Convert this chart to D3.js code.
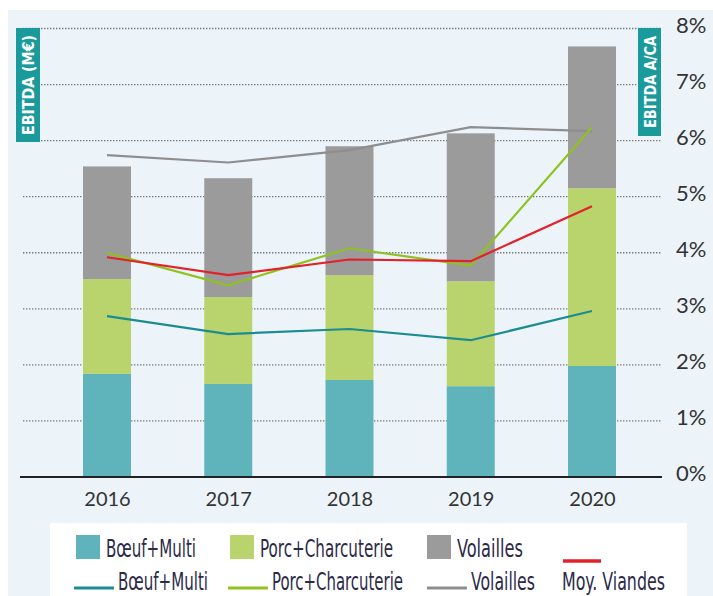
<!DOCTYPE html>
<html>
<head>
<meta charset="utf-8">
<script src="https://cdn.jsdelivr.net/npm/d3@7"></script>
<style>
  body { margin: 0; background: #fff; }
  svg { display: block; }
</style>
</head>
<body>
<script>
// data
var years = ["2016", "2017", "2018", "2019", "2020"];
// EBITDA (bars, in gridline units since the left axis has no labels)
var boeufBar = [1.84, 1.66, 1.73, 1.62, 1.98];
var porcBar = [1.69, 1.55, 1.87, 1.87, 3.17];
var volBar = [2.01, 2.12, 2.30, 2.64, 2.53];
// EBITDA / CA (lines, %)
var boeufPct = [2.87, 2.55, 2.64, 2.44, 2.96];
var porcPct = [4.00, 3.42, 4.08, 3.77, 6.24];
var volPct = [5.74, 5.61, 5.83, 6.24, 6.17];
var moyPct = [3.92, 3.60, 3.88, 3.85, 4.83];
var pctTicks = [0, 1, 2, 3, 4, 5, 6, 7, 8];

var width = 713, height = 596;

var svg = d3.select("body")
  .append("svg")
    .attr("width", width)
    .attr("height", height);

// light blue panel
svg.append("rect")
  .attr("x", 8).attr("y", 10)
  .attr("width", width - 8).attr("height", height - 10)
  .attr("fill", "#ecf4fa");

var x = d3.scalePoint()
  .domain(years)
  .range([107, 592]);
var barW = 48;

var yPct = d3.scaleLinear().domain([0, 8]).range([477, 28.5]);
var yBar = d3.scaleLinear().domain([0, 8]).range([477, 28.5]);

// dotted gridlines
svg.append("g")
  .selectAll("line")
  .data(pctTicks.slice(1))
  .enter()
    .append("line")
      .attr("x1", 23).attr("x2", 662)
      .attr("y1", function(d) { return yPct(d); })
      .attr("y2", function(d) { return yPct(d); })
      .attr("stroke", "#777")
      .attr("stroke-width", 1.3)
      .attr("stroke-dasharray", "1.4,1.6");

// stacked bars
var stackData = years.map(function(y, i) {
  return { year: y, boeuf: boeufBar[i], porc: porcBar[i], vol: volBar[i] };
});
var stack = d3.stack().keys(["boeuf", "porc", "vol"]);
var barColour = { boeuf: "#5fb4bb", porc: "#b9d46c", vol: "#9b9b9b" };

svg.append("g")
  .selectAll("g")
  .data(stack(stackData))
  .enter()
    .append("g")
      .attr("fill", function(d) { return barColour[d.key]; })
    .selectAll("rect")
    .data(function(d) { return d; })
    .enter()
      .append("rect")
        .attr("x", function(d) { return x(d.data.year) - barW / 2; })
        .attr("width", barW)
        .attr("y", function(d) { return yBar(d[1]); })
        .attr("height", function(d) { return yBar(d[0]) - yBar(d[1]); });

// baseline
svg.append("line")
  .attr("x1", 20).attr("x2", 662)
  .attr("y1", yPct(0)).attr("y2", yPct(0))
  .attr("stroke", "#222")
  .attr("stroke-width", 2);

// lines
var line = d3.line()
  .x(function(d, i) { return x(years[i]); })
  .y(function(d) { return yPct(d); });

var lines = [
  { values: volPct, colour: "#8e8e8e" },
  { values: boeufPct, colour: "#1b8c91" },
  { values: porcPct, colour: "#8dc21f" },
  { values: moyPct, colour: "#e2212a" }
];
svg.append("g")
  .selectAll("path")
  .data(lines)
  .enter()
    .append("path")
      .attr("d", function(d) { return line(d.values); })
      .attr("fill", "none")
      .attr("stroke", function(d) { return d.colour; })
      .attr("stroke-width", 2.2);

// x axis labels
var xAxis = svg.append("g")
  .attr("transform", "translate(0," + yPct(0) + ")")
  .call(d3.axisBottom(x).tickSize(0).tickPadding(15));
xAxis.select(".domain").remove();
xAxis.selectAll("text")
  .attr("font-family", "Lato, sans-serif")
  .attr("font-size", 20)
  .attr("fill", "#333");

// right % axis
var yAxis = svg.append("g")
  .attr("transform", "translate(676,0)")
  .call(d3.axisRight(yPct).tickValues(pctTicks).tickSize(0).tickPadding(0)
    .tickFormat(function(d) { return d + "%"; }));
yAxis.select(".domain").remove();
yAxis.selectAll("text")
  .attr("dy", "0.18em")
  .attr("font-family", "Lato, sans-serif")
  .attr("font-size", 22)
  .attr("fill", "#333");

// axis title boxes
function titleBox(x0, y0, w, h, label, len) {
  svg.append("rect")
    .attr("x", x0).attr("y", y0)
    .attr("width", w).attr("height", h)
    .attr("fill", "#1a9a9b");
  svg.append("text")
    .attr("transform", "translate(" + (x0 + w / 2 + 6) + "," + (y0 + h / 2) + ") rotate(-90)")
    .attr("text-anchor", "middle")
    .attr("font-family", "'DejaVu Sans', sans-serif")
    .attr("font-weight", "bold")
    .attr("font-size", 16)
    .attr("fill", "#fff")
    .attr("textLength", len)
    .attr("lengthAdjust", "spacingAndGlyphs")
    .text(label);
}
titleBox(16, 28, 24, 114, "EBITDA (M€)", 100);
titleBox(638, 28, 23, 108, "EBITDA A/CA", 92);

// legend
svg.append("rect")
  .attr("x", 50).attr("y", 523)
  .attr("width", 637).attr("height", 73)
  .attr("fill", "#fff");

var legendFont = "'Liberation Sans Narrow', 'DejaVu Sans Condensed', sans-serif";
var barLegend = [
  { label: "Bœuf+Multi", colour: barColour.boeuf, x: 76, w: 90 },
  { label: "Porc+Charcuterie", colour: barColour.porc, x: 230, w: 133 },
  { label: "Volailles", colour: barColour.vol, x: 427, w: 66 }
];
var lineLegend = [
  { label: "Bœuf+Multi", colour: "#1b8c91", x: 74, w: 90 },
  { label: "Porc+Charcuterie", colour: "#8dc21f", x: 228, w: 131 },
  { label: "Volailles", colour: "#8e8e8e", x: 427, w: 64 }
];

barLegend.forEach(function(d) {
  svg.append("rect")
    .attr("x", d.x).attr("y", 535)
    .attr("width", 24).attr("height", 24)
    .attr("fill", d.colour);
  svg.append("text")
    .attr("x", d.x + 30).attr("y", 557)
    .attr("font-family", legendFont)
    .attr("font-size", 25)
    .attr("fill", "#2b2a48")
    .attr("textLength", d.w)
    .attr("lengthAdjust", "spacingAndGlyphs")
    .text(d.label);
});

lineLegend.forEach(function(d) {
  svg.append("line")
    .attr("x1", d.x).attr("x2", d.x + 40)
    .attr("y1", 588).attr("y2", 588)
    .attr("stroke", d.colour)
    .attr("stroke-width", 3);
  svg.append("text")
    .attr("x", d.x + 44).attr("y", 590)
    .attr("font-family", legendFont)
    .attr("font-size", 24)
    .attr("fill", "#2b2a48")
    .attr("textLength", d.w)
    .attr("lengthAdjust", "spacingAndGlyphs")
    .text(d.label);
});

svg.append("line")
  .attr("x1", 563).attr("x2", 601)
  .attr("y1", 561).attr("y2", 561)
  .attr("stroke", "#e2212a")
  .attr("stroke-width", 3.5);
svg.append("text")
  .attr("x", 562).attr("y", 590)
  .attr("font-family", legendFont)
  .attr("font-size", 24)
  .attr("fill", "#2b2a48")
  .attr("textLength", 103)
  .attr("lengthAdjust", "spacingAndGlyphs")
  .text("Moy. Viandes");
</script>
</body>
</html>
